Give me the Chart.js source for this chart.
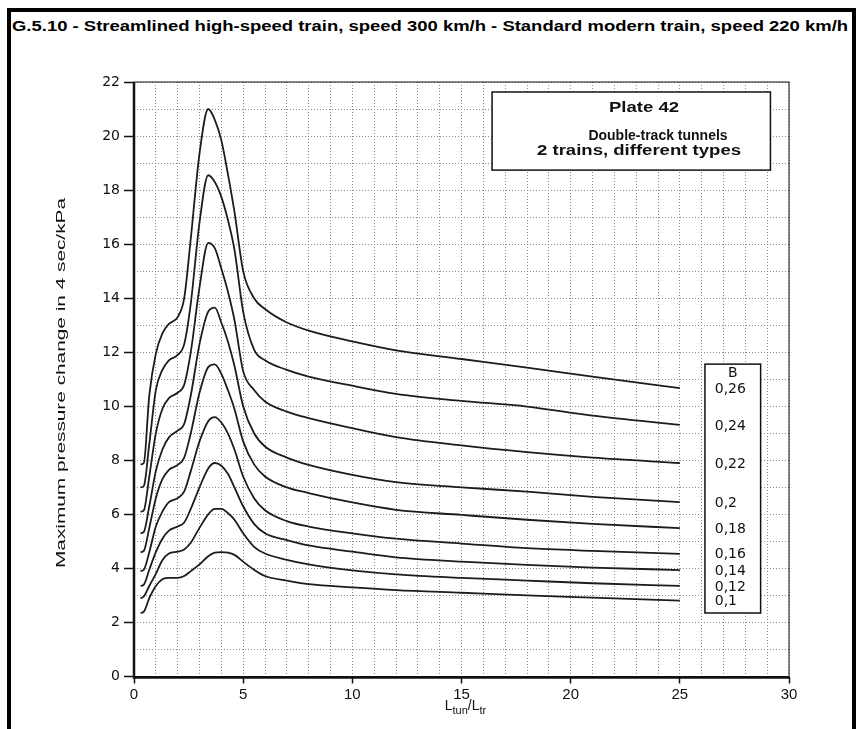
<!DOCTYPE html>
<html>
<head>
<meta charset="utf-8">
<script src="https://cdn.jsdelivr.net/npm/chart.js@4.4.1/dist/chart.umd.min.js"></script>
<style>
body { margin: 0; background: #fff; width: 860px; height: 729px; overflow: hidden; position: relative; font-family: "Liberation Sans", Arial, sans-serif; }
#frame { position: absolute; left: 7px; top: 8px; width: 849px; height: 780px; border: 4px solid #000; box-sizing: border-box; }
#title { position: absolute; left: 12px; top: 19px; font-weight: bold; font-size: 14px; line-height: 14px; white-space: nowrap; transform-origin: 0 0; color: #000; }
#chart { position: absolute; left: 0; top: 0; }
</style>
</head>
<body>
<div id="frame"></div>
<div id="title">G.5.10 - Streamlined high-speed train, speed 300 km/h - Standard modern train, speed 220 km/h</div>
<canvas id="chart" width="860" height="729"></canvas>
<script>
// L_tun / L_tr values shared by every curve
const ratio = [0.3, 0.45, 0.7, 1, 1.3, 1.6, 2, 2.3, 2.6, 3, 3.4, 3.7, 4, 4.3, 4.6, 5, 5.5, 6, 7, 8, 10, 12, 15, 18, 21, 25];

// max pressure change (kPa) per blockage ratio B
const b026 = [7.85, 7.9, 10.4, 11.95, 12.7, 13.05, 13.3, 14.0, 16.2, 19.35, 21.0, 20.6, 19.85, 18.6, 17.2, 15.0, 14.0, 13.6, 13.1, 12.8, 12.4, 12.07, 11.75, 11.43, 11.1, 10.67];
const b024 = [7.0, 7.05, 8.6, 10.6, 11.35, 11.7, 11.9, 12.3, 13.8, 16.8, 18.55, 18.3, 17.75, 16.9, 15.8, 13.5, 12.1, 11.7, 11.35, 11.1, 10.76, 10.46, 10.2, 9.99, 9.65, 9.31];
const b022 = [6.1, 6.15, 7.4, 9.0, 9.9, 10.3, 10.5, 10.8, 12.0, 14.4, 16.05, 15.85, 15.1, 14.25, 13.2, 11.3, 10.6, 10.18, 9.8, 9.56, 9.19, 8.86, 8.55, 8.3, 8.1, 7.9];
const b020 = [5.3, 5.35, 6.3, 7.6, 8.4, 8.85, 9.1, 9.35, 10.4, 12.3, 13.5, 13.65, 13.1, 12.4, 11.5, 10.0, 9.0, 8.51, 8.1, 7.83, 7.46, 7.19, 7.0, 6.84, 6.65, 6.45];
const b018 = [4.6, 4.65, 5.5, 6.6, 7.3, 7.65, 7.83, 8.1, 9.0, 10.5, 11.45, 11.55, 11.2, 10.6, 9.9, 8.7, 7.85, 7.4, 7.0, 6.79, 6.44, 6.17, 5.98, 5.8, 5.65, 5.49];
const b016 = [3.9, 3.95, 4.6, 5.55, 6.1, 6.45, 6.6, 6.85, 7.6, 8.7, 9.45, 9.6, 9.4, 9.0, 8.4, 7.4, 6.6, 6.15, 5.75, 5.55, 5.3, 5.1, 4.92, 4.75, 4.65, 4.54];
const b014 = [3.35, 3.4, 3.95, 4.6, 5.1, 5.4, 5.55, 5.7, 6.2, 7.0, 7.7, 7.9, 7.8, 7.5, 7.0, 6.3, 5.65, 5.3, 5.05, 4.85, 4.62, 4.41, 4.25, 4.13, 4.03, 3.94];
const b012 = [2.9, 2.96, 3.35, 3.8, 4.3, 4.55, 4.62, 4.7, 4.95, 5.5, 6.0, 6.2, 6.2, 6.05, 5.8, 5.3, 4.8, 4.55, 4.32, 4.15, 3.93, 3.78, 3.65, 3.55, 3.45, 3.35];
const b010 = [2.35, 2.4, 2.9, 3.35, 3.6, 3.65, 3.65, 3.72, 3.9, 4.15, 4.45, 4.58, 4.6, 4.58, 4.5, 4.25, 3.95, 3.72, 3.55, 3.42, 3.3, 3.2, 3.1, 3.0, 2.92, 2.81];

const curves = [b026, b024, b022, b020, b018, b016, b014, b012, b010];
const bLabels = ["0,26", "0,24", "0,22", "0,2", "0,18", "0,16", "0,14", "0,12", "0,1"];

const yTitle = "Maximum pressure change in 4 sec/kPa";
const plateLines = ["Plate 42", "Double-track tunnels", "2 trains, different types"];

// stretch the page title to the scanned width
const titleEl = document.getElementById("title");
titleEl.style.transform = "scaleX(" + (836 / titleEl.offsetWidth) + ")";

// text drawn squeezed/stretched to a given width (the scan is not square)
function fitText(c, text, x, y, width, align) {
	let w = c.measureText(text).width;
	c.save();
	c.translate(x, y);
	c.scale(width / w, 1);
	c.textAlign = "left";
	let start = align === "center" ? -w / 2 : 0;
	c.fillText(text, start, 0);
	c.restore();
}

const decor = {
	id: "decor",
	afterDraw(chart) {
		const c = chart.ctx;
		const a = chart.chartArea;
		const sx = chart.scales.x, sy = chart.scales.y;
		c.save();
		c.setLineDash([]);
		c.strokeStyle = "#111";

		// plot frame, left and bottom axes heavier
		c.lineWidth = 1;
		c.strokeRect(a.left, a.top, a.right - a.left, a.bottom - a.top);
		c.lineWidth = 2.5;
		c.beginPath();
		c.moveTo(a.left, a.top);
		c.lineTo(a.left, a.bottom + 1);
		c.lineTo(a.right, a.bottom + 1);
		c.stroke();

		// plate box
		let bx0 = sx.getPixelForValue(16.4), bx1 = sx.getPixelForValue(29.15);
		let by0 = sy.getPixelForValue(21.63), by1 = sy.getPixelForValue(18.74);
		c.fillStyle = "#fff";
		c.fillRect(bx0, by0, bx1 - bx0, by1 - by0);
		c.lineWidth = 1.5;
		c.strokeRect(bx0, by0, bx1 - bx0, by1 - by0);
		c.fillStyle = "#111";
		c.textBaseline = "middle";
		c.font = "bold 14px 'Liberation Sans', Arial, sans-serif";
		fitText(c, plateLines[0], 609, 108, 70, "left");
		c.textAlign = "center";
		c.fillText(plateLines[1], 658, 136);
		fitText(c, plateLines[2], 537, 151, 204, "left");

		// B legend box
		let lx0 = sx.getPixelForValue(26.15), lx1 = sx.getPixelForValue(28.7);
		let ly0 = sy.getPixelForValue(11.56), ly1 = sy.getPixelForValue(2.35);
		c.fillStyle = "#fff";
		c.fillRect(lx0, ly0, lx1 - lx0, ly1 - ly0);
		c.lineWidth = 1.5;
		c.strokeRect(lx0, ly0, lx1 - lx0, ly1 - ly0);
		c.fillStyle = "#111";
		c.font = "14px 'DejaVu Sans', sans-serif";
		c.textAlign = "center";
		c.fillText("B", (lx0 + lx1) / 2, ly0 + 9);
		c.textAlign = "left";
		for (let i = 0; i < curves.length; i++) {
			let yv = curves[i][curves[i].length - 1];
			c.fillText(bLabels[i], sx.getPixelForValue(26.6), sy.getPixelForValue(yv) + 1);
		}

		// y axis title, rotated
		c.save();
		c.translate(62, 383);
		c.rotate(-Math.PI / 2);
		c.font = "12px 'Liberation Sans', Arial, sans-serif";
		fitText(c, yTitle, 0, 0, 370, "center");
		c.restore();

		// x axis title L_tun / L_tr with subscripts
		let big = "14px 'Liberation Sans', Arial, sans-serif";
		let small = "11px 'Liberation Sans', Arial, sans-serif";
		let parts = [["L", big, 0], ["tun", small, 4], ["/L", big, 0], ["tr", small, 4]];
		let total = 0;
		for (let p of parts) { c.font = p[1]; total += c.measureText(p[0]).width; }
		let px = (a.left + a.right) / 2 + 4 - total / 2;
		c.textBaseline = "alphabetic";
		for (let p of parts) {
			c.font = p[1];
			c.fillText(p[0], px, 710 + p[2]);
			px += c.measureText(p[0]).width;
		}
		c.restore();
	}
};

const datasets = curves.map((arr, i) => ({
	label: "B = " + bLabels[i],
	data: ratio.map((x, j) => ({ x: x, y: arr[j] })),
	borderColor: "#1c1c1c",
	borderWidth: 1.8,
	pointRadius: 0,
	fill: false,
	cubicInterpolationMode: "monotone"
}));

const chart = new Chart(document.getElementById("chart"), {
	type: "line",
	data: { datasets: datasets },
	options: {
		responsive: false,
		animation: false,
		devicePixelRatio: 1,
		layout: { padding: { top: 82, right: 71, left: 0, bottom: 0 } },
		plugins: { legend: { display: false }, tooltip: { enabled: false } },
		scales: {
			x: {
				type: "linear",
				min: 0,
				max: 30,
				afterFit: function (s) { s.height = 52.5; },
				ticks: {
					stepSize: 1,
					autoSkip: false,
					maxRotation: 0,
					padding: 2,
					color: "#111",
					font: { family: "'Liberation Sans', Arial, sans-serif", size: 15 },
					callback: v => (v % 5 === 0 ? v : "")
				},
				grid: {
					color: "#8c8c8c",
					lineWidth: 1,
					tickLength: 7,
					tickWidth: 1.5,
					tickColor: ctx => (ctx.tick && ctx.tick.value % 5 === 0 ? "#111" : "rgba(0,0,0,0)")
				},
				border: { display: false, dash: [1, 2] }
			},
			y: {
				min: 0,
				max: 22,
				afterFit: function (s) { s.width = 134; },
				ticks: {
					stepSize: 1,
					autoSkip: false,
					padding: 4,
					color: "#111",
					font: { family: "'DejaVu Sans', sans-serif", size: 14 },
					callback: v => (v % 2 === 0 ? v : "")
				},
				grid: {
					color: "#8c8c8c",
					lineWidth: 1,
					tickLength: 10,
					tickWidth: 1.5,
					tickColor: ctx => (ctx.tick && ctx.tick.value % 2 === 0 ? "#111" : "rgba(0,0,0,0)")
				},
				border: { display: false, dash: [1, 2] }
			}
		}
	},
	plugins: [decor]
});
</script>
</body>
</html>
